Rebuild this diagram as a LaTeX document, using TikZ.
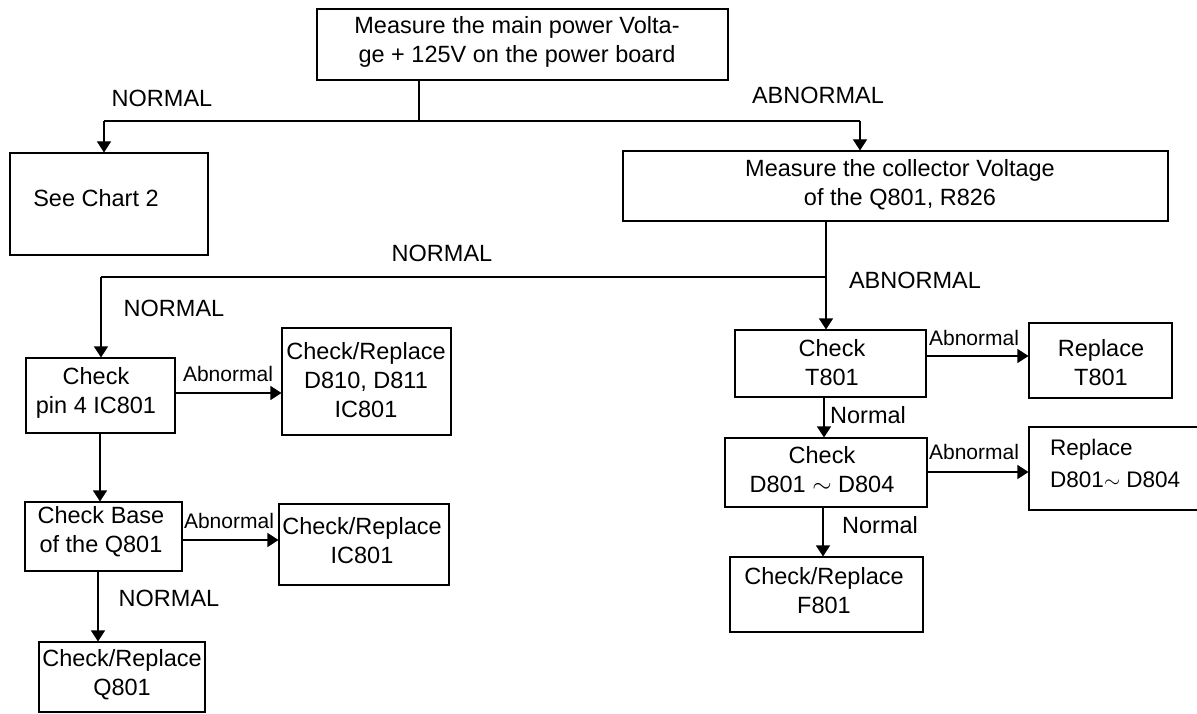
\documentclass[tikz,border=0pt]{standalone}
\usepackage{fontspec}
\setmainfont{Liberation Sans}
\usetikzlibrary{arrows.meta}
\begin{document}
\begin{tikzpicture}[x=1pt,y=-1pt,
  box/.style={draw, line width=1.1pt, inner sep=0pt},
  txt/.style={font=\fontsize{23.5}{29}\selectfont, align=center, inner sep=0pt},
  lbl/.style={font=\fontsize{23.5}{29}\selectfont, inner sep=0pt},
  slbl/.style={font=\fontsize{21}{26}\selectfont, inner sep=0pt},
  conn/.style={line width=1.1pt},
  arr/.style={line width=1.1pt, -{Triangle[width=14pt,length=11pt]}}]
\useasboundingbox (0,0) rectangle (1197,714);

% boxes
\node[box, minimum width=411pt, minimum height=71pt] (top) at (522.5,44.5) {};
\node[box, minimum width=198pt, minimum height=102pt] (chart2) at (109,204) {};
\node[box, minimum width=545pt, minimum height=70pt] (coll) at (895.5,186) {};
\node[box, minimum width=149pt, minimum height=75pt] (pin4) at (100.5,395.5) {};
\node[box, minimum width=169pt, minimum height=107pt] (d810) at (366.5,381.5) {};
\node[box, minimum width=157pt, minimum height=69pt] (base) at (103.5,536.5) {};
\node[box, minimum width=170pt, minimum height=81pt] (ic801) at (364,544.5) {};
\node[box, minimum width=166pt, minimum height=70pt] (q801) at (122,677) {};
\node[box, minimum width=191pt, minimum height=67pt] (t801) at (830.5,363.5) {};
\node[box, minimum width=143pt, minimum height=75pt] (rt801) at (1100.5,360.5) {};
\node[box, minimum width=202pt, minimum height=69pt] (d801) at (826,472.5) {};
\node[box, minimum width=176pt, minimum height=83pt] (rd801) at (1117,468.5) {};
\node[box, minimum width=193pt, minimum height=75pt] (f801) at (826.5,594.5) {};

% box texts
\node[txt] (toptxt) at (517,42) {Measure the main power Volta-\\ge + 125V on the power board};
\node[txt] (chart2txt) at (96,198) {See Chart 2};
\node[txt] (colltxt) at (900,185) {Measure the collector Voltage\\of the Q801, R826};
\node[txt] (pin4txt) at (96,393) {Check\\pin 4 IC801};
\node[txt] (d810txt) at (366,380) {Check/Replace\\D810, D811\\IC801};
\node[txt] (basetxt) at (101,532) {Check Base\\of the Q801};
\node[txt] (ic801txt) at (362,541) {Check/Replace\\IC801};
\node[txt] (q801txt) at (122,675) {Check/Replace\\Q801};
\node[txt] (t801txt) at (832,363) {Check\\T801};
\node[txt] (rt801txt) at (1101,363) {Replace\\T801};
\node[txt] (d801txt) at (822,470) {Check\\D801 $\sim$ D804};
\node[txt, align=left, anchor=west, font=\fontsize{22.5}{32}\selectfont] (rd801txt) at (1050,463) {Replace\\D801$\sim$\ D804};
\node[txt] (f801txt) at (824,591) {Check/Replace\\F801};

% connectors
\coordinate (j1) at (419,121);
\coordinate (j1l) at (104,121);
\coordinate (j1r) at (860,121);
\draw[conn] (top.south -| j1) -- (j1);
\draw[conn] (j1l) -- (j1r);
\draw[arr] (j1l) -- (j1l |- chart2.north);
\draw[arr] (j1r) -- (j1r |- coll.north);

\coordinate (j2) at (826,277);
\coordinate (j2l) at (101,277);
\draw[arr] (coll.south -| j2) -- (t801.north -| j2);
\draw[conn] (j2) -- (j2l);
\draw[arr] (j2l) -- (j2l |- pin4.north);

\draw[arr] (pin4.east |- 0,393) -- (d810.west |- 0,393);
\draw[arr] (pin4.south -| 100,0) -- (base.north -| 100,0);
\draw[arr] (base.east |- 0,540) -- (ic801.west |- 0,540);
\draw[arr] (base.south -| 98,0) -- (q801.north -| 98,0);

\draw[arr] (t801.east |- 0,356) -- (rt801.west |- 0,356);
\draw[arr] (t801.south -| 824,0) -- (d801.north -| 824,0);
\draw[arr] (d801.east |- 0,472) -- (rd801.west |- 0,472);
\draw[arr] (d801.south -| 823,0) -- (f801.north -| 823,0);

% labels
\node[lbl] (l1) at (162,98) {NORMAL};
\node[lbl] (l2) at (818,95) {ABNORMAL};
\node[lbl] (l3) at (442,253) {NORMAL};
\node[lbl] (l4) at (915,280) {ABNORMAL};
\node[lbl] (l5) at (174,308) {NORMAL};
\node[slbl] (l6) at (228,374) {Abnormal};
\node[slbl] (l7) at (229,521) {Abnormal};
\node[lbl] (l8) at (169,598) {NORMAL};
\node[slbl] (l9) at (974,338) {Abnormal};
\node[lbl] (l10) at (868,415) {Normal};
\node[slbl] (l11) at (974,452) {Abnormal};
\node[lbl] (l12) at (880,525) {Normal};
\end{tikzpicture}
\end{document}
